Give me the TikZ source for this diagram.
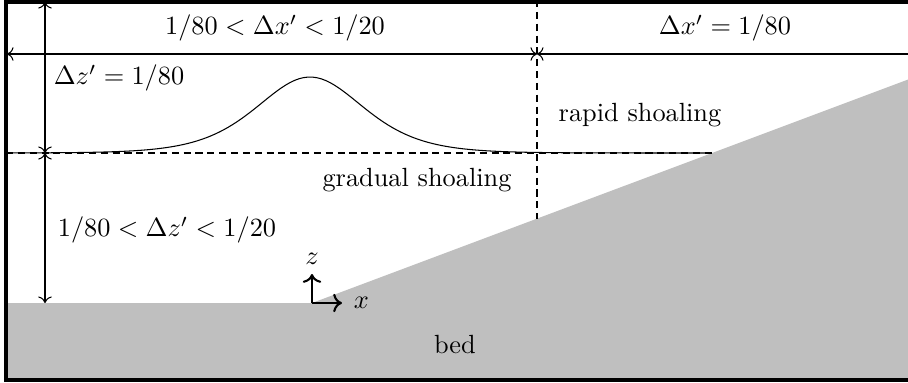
\documentclass[tikz,border=0pt]{standalone}
\usepackage{amsmath,amssymb}
\usetikzlibrary{arrows.meta, positioning, calc}
\definecolor{bedgray}{gray}{0.75}

\begin{document}
\begin{tikzpicture}[x=0.38pt, y=-0.38pt, >=To,
    dim/.style={<->, thin},
    guide/.style={thin, dash pattern=on 2.7pt off 1.8pt},
    axis/.style={->, thick}]
  \clip (0,0) rectangle (908,383);
  % the bed: flat floor, then a slope rising to the right
  \coordinate (o) at (312,303);
  \fill[bedgray] (6,303) -- (o) -- (910,78.8) -- (910,380) -- (6,380) -- cycle;
  % still water level and the split between the two zones
  \coordinate (swl) at (712,153);
  \coordinate (split) at (537,218.6);
  \draw[guide] (6,153) -- (swl);
  \draw[guide] (537,0) -- (split);
  % the solitary wave on the still water
  \draw[thin] plot[domain=6:712, samples=160]
    (\x, {153-76/cosh((\x-310)/72)/cosh((\x-310)/72)});
  % resolution arrows
  \coordinate (ztop) at (45,2);
  \coordinate (zmid) at (45,153);
  \coordinate (zbot) at (45,303);
  \coordinate (xleft) at (7,54);
  \coordinate (xmid) at (537,54);
  \coordinate (xright) at (916,54);
  \foreach \a/\b in {ztop/zmid, zmid/zbot, xleft/xmid, xmid/xright}
    \draw[dim] (\a) -- (\b);
  % frame
  \draw[very thick] (916,2) -- (6,2) -- (6,380) -- (916,380);
  % axes at the toe of the slope
  \coordinate (ox) at (342,303);
  \coordinate (oz) at (312,274);
  \draw[axis] (o) -- (ox);
  \draw[axis] (o) -- (oz);
  \node[right=1pt of ox] (xlab) {$x$};
  \node[above=0pt of oz] (zlab) {$z$};
  % labels
  \node (dxwide) at (275,28) {$1/80 < \Delta x' < 1/20$};
  \node (dxfine) at (725,28) {$\Delta x' = 1/80$};
  \node (dzfine) at (119,78) {$\Delta z' = 1/80$};
  \node (dzwide) at (167,230) {$1/80 < \Delta z' < 1/20$};
  \node (rapid) at (640,115) {rapid shoaling};
  \node (gradual) at (417,180) {gradual shoaling};
  \node (bed) at (455,345) {bed};
\end{tikzpicture}
\end{document}
